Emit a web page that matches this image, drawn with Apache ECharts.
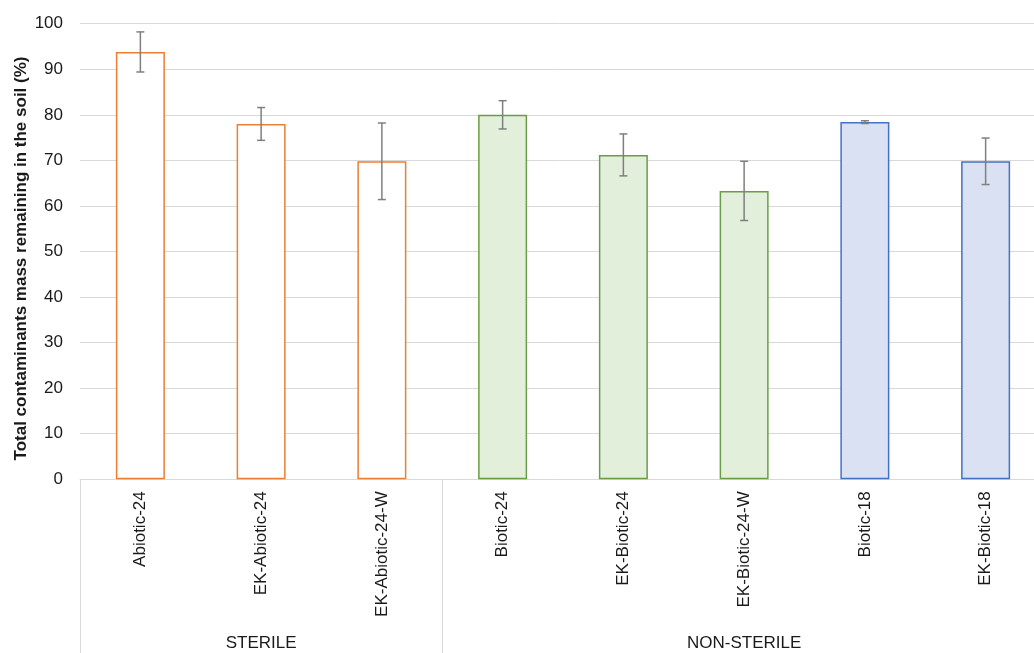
<!DOCTYPE html>
<html>
<head>
<meta charset="utf-8">
<style>
  html, body { margin: 0; padding: 0; background: #fff; }
  #main { width: 1034px; height: 653px; }
</style>
<script src="https://cdn.jsdelivr.net/npm/echarts@6.0.0/dist/echarts.min.js"></script>
</head>
<body>
<div id="main"></div>
<script>
var chart = echarts.init(document.getElementById('main'));

// data
const categories = ['Abiotic-24', 'EK-Abiotic-24', 'EK-Abiotic-24-W', 'Biotic-24',
  'EK-Biotic-24', 'EK-Biotic-24-W', 'Biotic-18', 'EK-Biotic-18'];
const values = [93.8, 78.0, 69.8, 80.0, 71.2, 63.3, 78.4, 69.8];
const errors = [4.4, 3.6, 8.4, 3.1, 4.6, 6.5, 0.3, 5.1];
const groups = ['STERILE', 'NON-STERILE'];
const groupSizes = [3, 5];
const yTicks = [0, 10, 20, 30, 40, 50, 60, 70, 80, 90, 100];

// look of each bar (by category index)
const fills = ['#ffffff', '#ffffff', '#ffffff', '#e2efda', '#e2efda', '#e2efda', '#d9e1f2', '#d9e1f2'];
const borders = ['#ed7d31', '#ed7d31', '#ed7d31', '#6a9e46', '#6a9e46', '#6a9e46', '#4472c4', '#4472c4'];

const font = '"Liberation Sans", Arial, sans-serif';
const textColor = '#1a1a1a';
const gridColor = '#d9d9d9';

// group boundaries and centres on a 0..n scale
const bounds = [0];
groupSizes.forEach(n => bounds.push(bounds[bounds.length - 1] + n));
const centres = groupSizes.map((n, i) => bounds[i] + n / 2);

const barData = values.map((v, i) => ({
  value: v,
  itemStyle: { color: fills[i], borderColor: borders[i], borderWidth: 1.5 }
}));
const errData = values.map((v, i) => [i, v - errors[i], v + errors[i]]);

option = {
  animation: false,
  // the plot runs a little past the right edge of the picture
  grid: { left: 80, top: 23.7, right: -12, height: 455.6, outerBoundsMode: 'none' },
  xAxis: [
    {
      type: 'category',
      data: categories,
      axisLine: { show: true, lineStyle: { color: gridColor, width: 1 } },
      axisTick: { show: false },
      axisLabel: {
        rotate: 90,
        margin: 12,
        interval: 0,
        fontSize: 17,
        fontFamily: font,
        color: textColor
      },
      splitLine: { show: false }
    },
    {
      type: 'value',
      position: 'bottom',
      min: 0,
      max: categories.length,
      axisLine: { show: false },
      axisTick: {
        show: true,
        customValues: bounds,
        length: 176,
        lineStyle: { color: gridColor, width: 1 }
      },
      axisLabel: {
        show: true,
        customValues: centres,
        margin: 156,
        fontSize: 17,
        fontFamily: font,
        color: textColor,
        formatter: v => groups[centres.indexOf(v)] || ''
      },
      splitLine: { show: false }
    }
  ],
  yAxis: {
    type: 'value',
    min: 0,
    max: 100,
    interval: 10,
    name: 'Total contaminants mass remaining in the soil (%)',
    nameLocation: 'middle',
    nameRotate: 90,
    nameGap: 50,
    nameMoveOverlap: false,
    nameTextStyle: {
      fontSize: 17,
      fontWeight: 'bold',
      fontFamily: font,
      color: textColor,
      padding: [0, 14, 0, 0]
    },
    axisLine: { show: false },
    axisTick: { show: false },
    axisLabel: {
      margin: 17,
      fontSize: 17,
      fontFamily: font,
      color: textColor,
      customValues: yTicks
    },
    splitLine: { show: true, lineStyle: { color: gridColor, width: 1 } }
  },
  series: [
    {
      type: 'bar',
      xAxisIndex: 0,
      barWidth: 49,
      data: barData
    },
    {
      type: 'custom',
      xAxisIndex: 0,
      data: errData,
      z: 5,
      renderItem: function (params, api) {
        const i = api.value(0);
        const lo = api.coord([i, api.value(1)]);
        const hi = api.coord([i, api.value(2)]);
        const w = 4;
        const style = { stroke: '#7f7f7f', lineWidth: 1.5, fill: null };
        return {
          type: 'group',
          children: [
            { type: 'line', shape: { x1: hi[0], y1: hi[1], x2: lo[0], y2: lo[1] }, style: style },
            { type: 'line', shape: { x1: hi[0] - w, y1: hi[1], x2: hi[0] + w, y2: hi[1] }, style: style },
            { type: 'line', shape: { x1: lo[0] - w, y1: lo[1], x2: lo[0] + w, y2: lo[1] }, style: style }
          ]
        };
      }
    }
  ]
};

option && chart.setOption(option);
</script>
</body>
</html>
